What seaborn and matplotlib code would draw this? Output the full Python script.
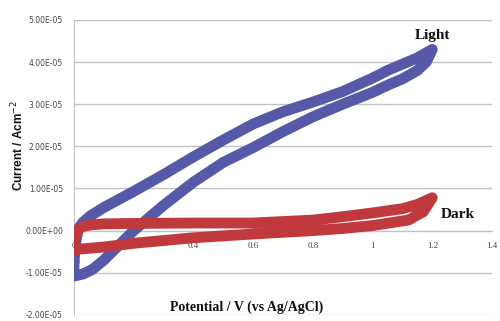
import matplotlib
matplotlib.use("Agg")
import matplotlib.pyplot as plt
import seaborn as sns
import numpy as np
import pandas as pd
from matplotlib.ticker import FuncFormatter, MultipleLocator

# --- data (current in units of 1e-5 A/cm^2) ---
light_up_x = [0, 0.005, 0.015, 0.03, 0.055, 0.1, 0.15, 0.2, 0.3, 0.4, 0.5, 0.6, 0.7, 0.8, 0.9, 1.0, 1.05, 1.1, 1.15, 1.2]
light_up_y = [-0.75, -0.3, 0.05, 0.2, 0.35, 0.55, 0.74, 0.93, 1.33, 1.75, 2.15, 2.53, 2.82, 3.05, 3.3, 3.62, 3.8, 3.95, 4.1, 4.3]
light_dn_x = [1.2, 1.18, 1.15, 1.1, 1.05, 1.0, 0.9, 0.8, 0.7, 0.6, 0.5, 0.4, 0.3, 0.2, 0.15, 0.1, 0.06, 0.03, 0.0]
light_dn_y = [4.3, 4.0, 3.8, 3.6, 3.45, 3.28, 3.0, 2.7, 2.35, 1.97, 1.62, 1.15, 0.6, 0.0, -0.35, -0.7, -0.93, -1.03, -1.08]

dark_up_x = [0, 0.01, 0.03, 0.06, 0.1, 0.2, 0.4, 0.6, 0.8, 0.9, 1.0, 1.1, 1.15, 1.2]
dark_up_y = [-0.25, 0.0, 0.1, 0.14, 0.16, 0.17, 0.18, 0.18, 0.25, 0.33, 0.42, 0.52, 0.62, 0.78]
dark_dn_x = [1.2, 1.17, 1.12, 1.0, 0.9, 0.8, 0.6, 0.4, 0.2, 0.1, 0.05, 0.0]
dark_dn_y = [0.78, 0.45, 0.25, 0.12, 0.05, 0.0, -0.08, -0.17, -0.3, -0.39, -0.42, -0.45]

x_ticks = [0, 0.2, 0.4, 0.6, 0.8, 1, 1.2, 1.4]
x_tick_labels = ["0", "0.2", "0.4", "0.6", "0.8", "1", "1.2", "1.4"]

SCALE = 1e-5

def loop(xu, yu, xd, yd):
    x = list(xu) + list(xd) + [xu[0]]
    y = [v * SCALE for v in (list(yu) + list(yd) + [yu[0]])]
    return pd.DataFrame({"x": x, "y": y})

light = loop(light_up_x, light_up_y, light_dn_x, light_dn_y)
dark = loop(dark_up_x, dark_up_y, dark_dn_x, dark_dn_y)

sns.set_style("white")
plt.rcParams["font.family"] = ["DejaVu Sans"]

fig = plt.figure(figsize=(5.0, 3.21), dpi=100)
ax = fig.add_axes([0.148, 0.019, 0.836, 0.919])

blue = "#5659a8"
red = "#c03a3d"
lw = 7.8
sns.lineplot(data=light, x="x", y="y", sort=False, estimator=None, ax=ax,
             color=blue, linewidth=lw, solid_joinstyle="round", solid_capstyle="round", zorder=3)
sns.lineplot(data=dark, x="x", y="y", sort=False, estimator=None, ax=ax,
             color=red, linewidth=lw, solid_joinstyle="round", solid_capstyle="round", zorder=4)

ax.set_xlim(0, 1.4)
ax.set_ylim(-2e-5, 5e-5)
ax.yaxis.set_major_locator(MultipleLocator(1e-5))
ax.yaxis.set_major_formatter(FuncFormatter(lambda v, p: "%.2E" % (0.0 if abs(v) < 1e-12 else v)))
ax.set_xticks(x_ticks)
ax.set_xticklabels(x_tick_labels)
ax.grid(axis="y", color="#bfc3c8", linewidth=1.0)
ax.grid(axis="x", visible=False)
ax.set_axisbelow(True)

for s in ["top", "right"]:
    ax.spines[s].set_visible(False)
ax.spines["left"].set_color("#bfc3c8")
ax.spines["bottom"].set_position(("data", 0))
ax.spines["bottom"].set_color("#bfc3c8")
ax.spines["bottom"].set_zorder(1)

ax.tick_params(axis="y", length=0, pad=8, labelsize=5.5, labelcolor="#444444")
ax.tick_params(axis="x", length=0, pad=8, labelsize=6.5, labelcolor="#444444")
for t in ax.get_yticklabels():
    t.set_family(["Liberation Sans Narrow", "DejaVu Sans"])
for t in ax.get_xticklabels():
    t.set_family(["Liberation Serif", "DejaVu Serif"])

ax.set_xlabel("")
ax.set_ylabel("")

serif = ["Liberation Serif", "DejaVu Serif"]
ax.text(1.2, 4.62e-5, "Light", ha="center", va="center", fontsize=11, fontweight="bold", family=serif, color="#111111")
ax.text(1.285, 0.38e-5, "Dark", ha="center", va="center", fontsize=11, fontweight="bold", family=serif, color="#111111")

fig.text(0.494, 0.044, "Potential / V (vs Ag/AgCl)", ha="center", va="center",
         fontsize=10, fontweight="bold", family=serif, color="#111111")
fig.text(0.036, 0.548, "Current / Acm$^{-2}$", ha="center", va="center", rotation=90,
         fontsize=8.5, fontweight="bold", family=["Liberation Sans", "DejaVu Sans"], color="#111111")

fig.savefig("out.png", dpi=100)
